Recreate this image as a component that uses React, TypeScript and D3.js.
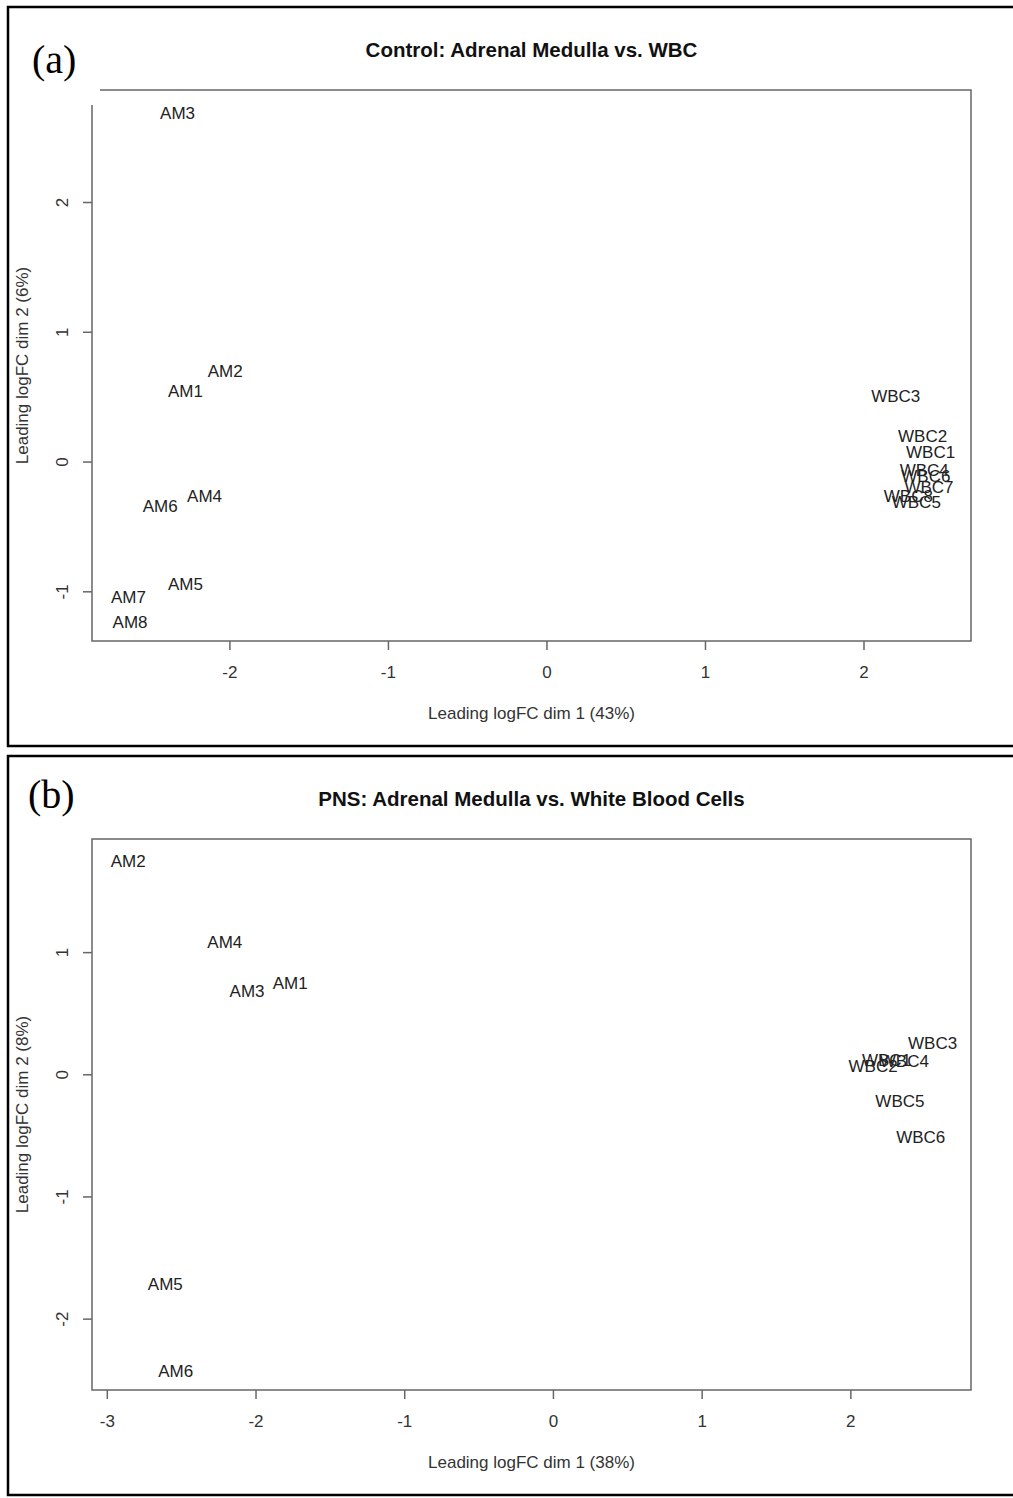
import * as d3 from 'd3'
import { useEffect } from 'react'

// panel (a) - Control
const aSamples = ['AM1', 'AM2', 'AM3', 'AM4', 'AM5', 'AM6', 'AM7', 'AM8',
    'WBC1', 'WBC2', 'WBC3', 'WBC4', 'WBC5', 'WBC6', 'WBC7', 'WBC8']
const aDim1 = [-2.28, -2.03, -2.33, -2.16, -2.28, -2.44, -2.64, -2.63,
    2.42, 2.37, 2.2, 2.38, 2.33, 2.39, 2.41, 2.28]
const aDim2 = [0.55, 0.7, 2.69, -0.26, -0.94, -0.34, -1.04, -1.23,
    0.08, 0.2, 0.51, -0.06, -0.31, -0.11, -0.19, -0.26]
const aXTicks = [-2, -1, 0, 1, 2]
const aYTicks = [-1, 0, 1, 2]

// panel (b) - PNS
const bSamples = ['AM1', 'AM2', 'AM3', 'AM4', 'AM5', 'AM6',
    'WBC1', 'WBC2', 'WBC3', 'WBC4', 'WBC5', 'WBC6']
const bDim1 = [-1.77, -2.86, -2.06, -2.21, -2.61, -2.54,
    2.24, 2.15, 2.55, 2.36, 2.33, 2.47]
const bDim2 = [0.75, 1.75, 0.69, 1.09, -1.71, -2.42,
    0.12, 0.07, 0.26, 0.11, -0.21, -0.51]
const bXTicks = [-3, -2, -1, 0, 1, 2]
const bYTicks = [-2, -1, 0, 1]

const sans = 'Liberation Sans, Arial, sans-serif'
const serif = 'Liberation Serif, Times New Roman, serif'
const boxColor = '#666'

function Panel({ top, bottom, letter, letterX, letterY, cover, title,
    xTitle, yTitle, samples, dim1, dim2, xDomain, yDomain, xTicks, yTicks }) {
    const left = 92
    const right = 971
    const plotTop = top + 83
    const plotBottom = plotTop + 551

    const x = d3.scaleLinear().domain(xDomain).range([left, right])
    const y = d3.scaleLinear().domain(yDomain).range([plotBottom, plotTop])
    const cx = (left + right) / 2
    const cy = (plotTop + plotBottom) / 2

    return (
        <g>
            <rect x={left} y={plotTop} width={right - left} height={plotBottom - plotTop}
                fill="none" stroke={boxColor} strokeWidth={1.5} />

            {/* x axis */}
            {xTicks.map((t) => (
                <g key={'x' + t}>
                    <line x1={x(t)} x2={x(t)} y1={plotBottom} y2={plotBottom + 9}
                        stroke={boxColor} strokeWidth={1.5} />
                    <text x={x(t)} y={plotBottom + 31} dy="0.36em" textAnchor="middle"
                        fontFamily={sans} fontSize={17} fill="#333">
                        {t}
                    </text>
                </g>
            ))}
            {/* y axis */}
            {yTicks.map((t) => (
                <g key={'y' + t}>
                    <line x1={left} x2={left - 9} y1={y(t)} y2={y(t)}
                        stroke={boxColor} strokeWidth={1.5} />
                    <text transform={`translate(${left - 30},${y(t)}) rotate(-90)`} dy="0.36em"
                        textAnchor="middle" fontFamily={sans} fontSize={17} fill="#333">
                        {t}
                    </text>
                </g>
            ))}

            <text x={cx} y={plotBottom + 78} textAnchor="middle" fontFamily={sans}
                fontSize={17} fill="#333">{xTitle}</text>
            <text transform={`translate(28,${cy}) rotate(-90)`} textAnchor="middle"
                fontFamily={sans} fontSize={17} fill="#333">{yTitle}</text>
            <text x={cx} y={top + 50} textAnchor="middle" fontFamily={sans}
                fontSize={20.5} fontWeight="bold" fill="#111">{title}</text>

            {samples.map((s, i) => (
                <text key={s} x={x(dim1[i])} y={y(dim2[i])} dy="0.36em" textAnchor="middle"
                    fontFamily={sans} fontSize={17} fill="#222">
                    {s}
                </text>
            ))}

            {cover && <rect x={10} y={top + 3} width={90} height={95} fill="#fff" />}
            <text x={letterX} y={letterY} fontFamily={serif} fontSize={40} fill="#000">
                {letter}
            </text>

            <rect x={8} y={top} width={1020} height={bottom - top}
                fill="none" stroke="#000" strokeWidth={2.5} />
        </g>
    )
}

export default function App() {
    useEffect(() => {
        document.body.style.margin = '0'
    }, [])

    return (
        <svg width={1013} height={1498} style={{ display: 'block', background: '#fff' }}>
            <Panel top={7} bottom={746} letter="(a)" letterX={32} letterY={73} cover
                title="Control: Adrenal Medulla vs. WBC"
                xTitle="Leading logFC dim 1 (43%)" yTitle="Leading logFC dim 2 (6%)"
                samples={aSamples} dim1={aDim1} dim2={aDim2}
                xDomain={[-2.87, 2.675]} yDomain={[-1.379, 2.867]}
                xTicks={aXTicks} yTicks={aYTicks} />
            <Panel top={756} bottom={1495} letter="(b)" letterX={28} letterY={808} cover={false}
                title="PNS: Adrenal Medulla vs. White Blood Cells"
                xTitle="Leading logFC dim 1 (38%)" yTitle="Leading logFC dim 2 (8%)"
                samples={bSamples} dim1={bDim1} dim2={bDim2}
                xDomain={[-3.103, 2.808]} yDomain={[-2.58, 1.93]}
                xTicks={bXTicks} yTicks={bYTicks} />
        </svg>
    )
}
